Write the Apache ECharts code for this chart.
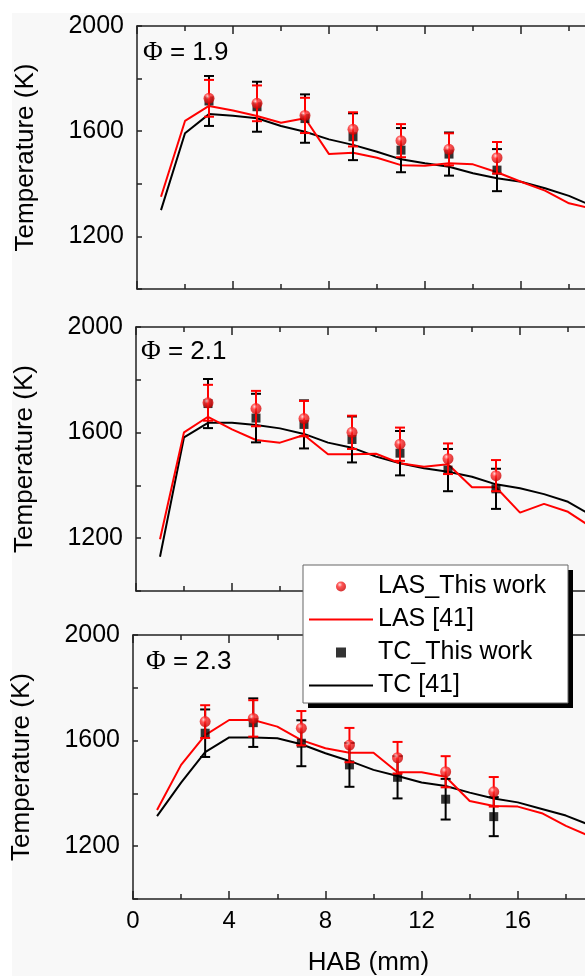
<!DOCTYPE html>
<html><head><meta charset="utf-8">
<script src="https://cdn.jsdelivr.net/npm/echarts@6/dist/echarts.min.js"></script>
<style>html,body{margin:0;padding:0;background:#fff}#c{width:585px;height:976px}</style>
</head><body><div id="c"></div>
<script>
// ---- data ----
const habPoints = [3, 5, 7, 9, 11, 13, 15];
const habModel = [1, 2, 3, 4, 5, 6, 7, 8, 9, 10, 11, 12, 13, 14, 15, 16, 17, 18, 19];
const phiLabels = ['1.9', '2.1', '2.3'];
const xTicks = [0, 4, 8, 12, 16, 20];
const yTicks = [1200, 1600, 2000];

// Phi = 1.9
const las19 = [1725, 1706, 1660, 1607, 1564, 1531, 1499];
const lasErr19 = [70, 68, 67, 65, 63, 61, 60];
const tc19 = [1715, 1693, 1648, 1579, 1528, 1513, 1452];
const tcErr19 = [95, 95, 92, 89, 84, 82, 80];
const lasModel19 = [1351, 1639, 1696, 1679, 1658, 1632, 1649, 1513, 1518, 1499, 1471, 1469, 1478, 1474, 1444, 1408, 1374, 1326, 1305];
const tcModel19 = [1300, 1592, 1665, 1659, 1649, 1620, 1598, 1569, 1548, 1522, 1493, 1478, 1465, 1440, 1421, 1408, 1383, 1354, 1315];

// Phi = 2.1
const las21 = [1713, 1691, 1653, 1601, 1556, 1501, 1437];
const lasErr21 = [68, 67, 67, 63, 63, 58, 59];
const tc21 = [1710, 1655, 1631, 1574, 1522, 1458, 1387];
const tcErr21 = [93, 92, 91, 87, 84, 80, 76];
const lasModel21 = [1196, 1601, 1660, 1612, 1572, 1562, 1591, 1518, 1518, 1520, 1484, 1471, 1480, 1393, 1393, 1297, 1330, 1300, 1240];
const tcModel21 = [1130, 1582, 1637, 1637, 1629, 1616, 1595, 1562, 1543, 1509, 1484, 1465, 1452, 1433, 1404, 1389, 1367, 1338, 1285];

// Phi = 2.3
const las23 = [1672, 1684, 1647, 1583, 1535, 1482, 1406];
const lasErr23 = [62, 69, 65, 65, 60, 59, 56];
const tc23 = [1628, 1668, 1590, 1508, 1461, 1378, 1312];
const tcErr23 = [90, 92, 87, 83, 80, 77, 74];
const lasModel23 = [1337, 1508, 1621, 1678, 1678, 1653, 1602, 1571, 1554, 1554, 1480, 1480, 1463, 1371, 1352, 1350, 1325, 1277, 1238];
const tcModel23 = [1314, 1441, 1556, 1612, 1612, 1609, 1586, 1552, 1523, 1489, 1466, 1441, 1428, 1403, 1381, 1366, 1341, 1316, 1280];

const panelData = [
  {las: las19, lasErr: lasErr19, tc: tc19, tcErr: tcErr19, lasModel: lasModel19, tcModel: tcModel19},
  {las: las21, lasErr: lasErr21, tc: tc21, tcErr: tcErr21, lasModel: lasModel21, tcModel: tcModel21},
  {las: las23, lasErr: lasErr23, tc: tc23, tcErr: tcErr23, lasModel: lasModel23, tcModel: tcModel23}
];

// ---- layout ----
const gridLayout = [
  {left: 137, top: 26, width: 480, height: 263, phiX: 143, phiY: 53},
  {left: 136, top: 327, width: 480, height: 264, phiX: 141, phiY: 352},
  {left: 133, top: 635, width: 481, height: 264, phiX: 146, phiY: 662}
];
const FONT = "'Liberation Sans', Arial, sans-serif";
const AX = '#222';
const RED = '#ff0000';
const sphere = new echarts.graphic.RadialGradient(0.38, 0.32, 0.7, [
  {offset: 0, color: '#ffd6d6'},
  {offset: 0.35, color: '#ff2a2a'},
  {offset: 1, color: '#c80000'}
]);

function errRender(params, api) {
  const x = api.value(0), lo = api.value(1), hi = api.value(2);
  const a = api.coord([x, hi]), b = api.coord([x, lo]);
  const color = api.visual('color');
  const st = {stroke: color, lineWidth: 2};
  const w = 5;
  return {type: 'group', children: [
    {type: 'line', shape: {x1: a[0], y1: a[1], x2: b[0], y2: b[1]}, style: st},
    {type: 'line', shape: {x1: a[0] - w, y1: a[1], x2: a[0] + w, y2: a[1]}, style: st},
    {type: 'line', shape: {x1: b[0] - w, y1: b[1], x2: b[0] + w, y2: b[1]}, style: st}
  ]};
}

const grids = [], xAxes = [], yAxes = [], series = [], graphics = [];
graphics.push({type: 'rect', shape: {x: 12, y: 13, width: 573, height: 963}, style: {fill: '#f8f8f8'}, z: -100, silent: true});

gridLayout.forEach((g, i) => {
  grids.push({left: g.left, top: g.top, width: g.width, height: g.height, containLabel: false, outerBoundsMode: 'none'});
  const lineSt = {color: AX, width: 1.5};
  const xBase = {
    gridIndex: i, type: 'value', min: xTicks[0], max: xTicks[xTicks.length - 1], interval: 4,
    axisLine: {show: true, onZero: false, lineStyle: lineSt},
    axisTick: {show: true, inside: true, length: 8, lineStyle: lineSt},
    minorTick: {show: true, splitNumber: 2, length: 5, lineStyle: lineSt},
    splitLine: {show: false}, minorSplitLine: {show: false}
  };
  xAxes.push(Object.assign({}, xBase, {
    position: 'bottom',
    axisLabel: {show: i === 2, fontSize: 24, color: '#000', fontFamily: FONT, margin: 10,
      formatter: v => xTicks.indexOf(v) >= 0 ? String(v) : ''}
  }));
  xAxes.push(Object.assign({}, xBase, {position: 'top', axisLabel: {show: false}}));
  const yBase = {
    gridIndex: i, type: 'value', min: 1000, max: 2000, interval: 200,
    axisLine: {show: true, onZero: false, lineStyle: lineSt},
    axisTick: {show: true, inside: true, length: 5, lineStyle: lineSt},
    splitLine: {show: false}
  };
  yAxes.push(Object.assign({}, yBase, {
    position: 'left',
    name: 'Temperature (K)', nameLocation: 'middle', nameGap: 98,
    nameTextStyle: {fontSize: 26, color: '#000', fontFamily: FONT},
    axisLabel: {fontSize: 25, color: '#000', fontFamily: FONT, margin: 13,
      formatter: v => yTicks.indexOf(v) >= 0 ? String(v) : ''}
  }));
  yAxes.push(Object.assign({}, yBase, {position: 'right', axisLabel: {show: false}}));

  const d = panelData[i];
  const xi = 2 * i, yi = 2 * i;
  series.push({type: 'line', name: 'TC [41]', xAxisIndex: xi, yAxisIndex: yi, symbol: 'none',
    data: habModel.map((x, k) => [x, d.tcModel[k]]),
    lineStyle: {color: '#000', width: 2}, itemStyle: {color: '#000'}, z: 3});
  series.push({type: 'line', name: 'LAS [41]', xAxisIndex: xi, yAxisIndex: yi, symbol: 'none',
    data: habModel.map((x, k) => [x, d.lasModel[k]]),
    lineStyle: {color: RED, width: 2}, itemStyle: {color: RED}, z: 3});
  series.push({type: 'custom', name: 'tcErr' + i, xAxisIndex: xi, yAxisIndex: yi,
    data: habPoints.map((x, k) => [x, d.tc[k] - d.tcErr[k], d.tc[k] + d.tcErr[k]]),
    encode: {x: 0, y: [1, 2]}, itemStyle: {color: '#000'}, renderItem: errRender, z: 4});
  series.push({type: 'scatter', name: 'TC_This work', xAxisIndex: xi, yAxisIndex: yi,
    data: habPoints.map((x, k) => [x, d.tc[k]]), symbol: 'rect', symbolSize: 9,
    itemStyle: {color: '#000'}, z: 5});
  series.push({type: 'custom', name: 'lasErr' + i, xAxisIndex: xi, yAxisIndex: yi,
    data: habPoints.map((x, k) => [x, d.las[k] - d.lasErr[k], d.las[k] + d.lasErr[k]]),
    encode: {x: 0, y: [1, 2]}, itemStyle: {color: RED}, renderItem: errRender, z: 6});
  series.push({type: 'scatter', name: 'LAS_This work', xAxisIndex: xi, yAxisIndex: yi,
    data: habPoints.map((x, k) => [x, d.las[k]]), symbol: 'circle', symbolSize: 11,
    itemStyle: {color: sphere}, z: 7});

  graphics.push({type: 'text', x: g.phiX, y: g.phiY, z: 20,
    style: {text: '{p|\u03A6} = ' + phiLabels[i], fontSize: 26, fontFamily: FONT, fill: '#000',
      verticalAlign: 'middle', align: 'left',
      rich: {p: {fontFamily: "'Liberation Serif', 'Times New Roman', serif", fontSize: 27, fill: '#000'}}}});
});

graphics.push({type: 'text', x: 368.5, y: 963, z: 20,
  style: {text: 'HAB (mm)', fontSize: 26, fontFamily: FONT, fill: '#000', align: 'center', verticalAlign: 'middle'}});
graphics.push({type: 'rect', shape: {x: 308, y: 570, width: 265, height: 138}, style: {fill: '#000'}, z: 50});
graphics.push({type: 'rect', shape: {x: 303, y: 565, width: 265, height: 138}, style: {fill: '#ffffff', stroke: '#666', lineWidth: 1}, z: 51});

const noSym = {color: 'rgba(0,0,0,0)', borderColor: 'rgba(0,0,0,0)', borderWidth: 0, opacity: 0};
const chart = echarts.init(document.getElementById('c'), null, {renderer: 'canvas'});
chart.setOption({
  backgroundColor: '#ffffff',
  animation: false,
  grid: grids,
  xAxis: xAxes,
  yAxis: yAxes,
  series: series,
  graphic: graphics,
  legend: {
    orient: 'vertical', left: 308, top: 570, itemWidth: 64, itemHeight: 10, itemGap: 0, padding: 0,
    selectedMode: false, z: 60, symbolKeepAspect: true,
    textStyle: {fontSize: 25, lineHeight: 33, color: '#000', fontFamily: FONT},
    data: [
      {name: 'LAS_This work'},
      {name: 'LAS [41]', itemStyle: noSym},
      {name: 'TC_This work', icon: 'path://M0,0L9,0L9,9L0,9Z'},
      {name: 'TC [41]', itemStyle: noSym}
    ]
  }
});
</script></body></html>
